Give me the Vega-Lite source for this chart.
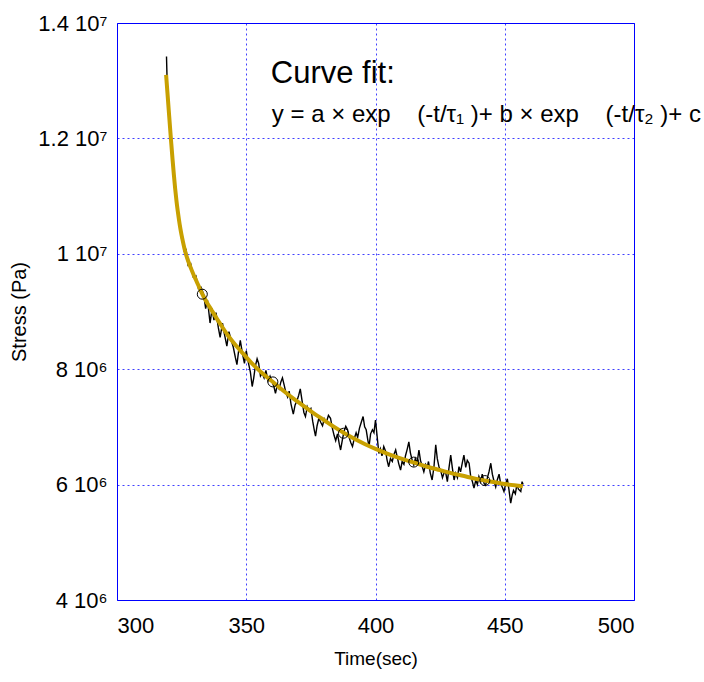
{
  "$schema": "https://vega.github.io/schema/vega-lite/v6.json",
  "width": 517,
  "height": 577,
  "autosize": {"type": "none"},
  "padding": {"left": 117, "top": 23, "right": 70, "bottom": 82},
  "background": "white",
  "datasets": {
    "raw": [
      {"t":319.15,"s":13.42},{"t":319.3,"s":13.15},{"t":319.5,"s":12.84},{"t":320.0,"s":12.46},{"t":320.5,"s":12.24},
      {"t":321.0,"s":11.86},{"t":321.5,"s":11.66},{"t":322.0,"s":11.33},{"t":322.5,"s":11.18},{"t":323.0,"s":10.88},
      {"t":323.5,"s":10.79},{"t":324.0,"s":10.55},{"t":324.5,"s":10.50},{"t":325.0,"s":10.26},{"t":325.5,"s":10.27},
      {"t":326.0,"s":10.05},{"t":326.7,"s":10.07},{"t":327.5,"s":9.80},{"t":328.5,"s":9.83},{"t":329.5,"s":9.60},
      {"t":330.5,"s":9.62},{"t":331.5,"s":9.40},{"t":332.5,"s":9.42},{"t":333.5,"s":9.30},{"t":334.3,"s":9.05},
      {"t":335.0,"s":9.20},{"t":336.0,"s":8.80},{"t":336.8,"s":9.05},{"t":337.5,"s":8.85},{"t":338.3,"s":8.98},
      {"t":339.2,"s":8.72},{"t":339.9,"s":8.55},{"t":340.8,"s":8.80},{"t":341.5,"s":8.62},{"t":342.5,"s":8.40},
      {"t":343.3,"s":8.65},{"t":344.2,"s":8.50},{"t":345.0,"s":8.38},{"t":345.8,"s":8.20},{"t":346.4,"s":8.08},
      {"t":347.0,"s":8.30},{"t":347.7,"s":8.50},{"t":348.5,"s":8.28},{"t":349.3,"s":8.10},{"t":350.0,"s":8.32},
      {"t":350.8,"s":8.12},{"t":351.6,"s":7.95},{"t":352.3,"s":7.70},{"t":352.9,"s":7.85},{"t":353.5,"s":8.05},
      {"t":354.2,"s":8.18},{"t":354.8,"s":8.10},{"t":355.5,"s":7.88},{"t":356.2,"s":7.93},{"t":356.9,"s":7.85},
      {"t":357.6,"s":7.98},{"t":358.4,"s":7.80},{"t":359.2,"s":7.88},{"t":360.0,"s":7.78},{"t":360.7,"s":7.70},
      {"t":361.3,"s":7.58},{"t":362.0,"s":7.72},{"t":362.7,"s":7.66},{"t":363.4,"s":7.78},{"t":364.0,"s":7.85},
      {"t":364.7,"s":7.72},{"t":365.3,"s":7.60},{"t":366.0,"s":7.52},{"t":366.6,"s":7.62},{"t":367.3,"s":7.40},
      {"t":368.2,"s":7.22},{"t":368.9,"s":7.38},{"t":369.6,"s":7.45},{"t":370.3,"s":7.55},{"t":370.9,"s":7.66},
      {"t":371.6,"s":7.45},{"t":372.3,"s":7.25},{"t":372.9,"s":7.18},{"t":373.6,"s":7.35},{"t":374.3,"s":7.28},
      {"t":375.0,"s":7.32},{"t":375.7,"s":7.10},{"t":376.3,"s":6.95},{"t":376.8,"s":6.84},{"t":377.4,"s":7.02},
      {"t":378.1,"s":7.15},{"t":378.8,"s":7.08},{"t":379.5,"s":7.02},{"t":380.2,"s":7.14},{"t":381.0,"s":7.08},
      {"t":381.8,"s":7.20},{"t":382.6,"s":7.15},{"t":383.3,"s":6.98},{"t":384.0,"s":6.85},{"t":384.6,"s":6.76},
      {"t":385.3,"s":6.88},{"t":386.0,"s":6.70},{"t":386.5,"s":6.60},{"t":387.2,"s":6.78},{"t":387.8,"s":6.92},
      {"t":388.5,"s":7.01},{"t":389.2,"s":6.95},{"t":389.9,"s":6.80},{"t":390.5,"s":6.72},{"t":391.1,"s":6.66},
      {"t":391.8,"s":6.80},{"t":392.5,"s":6.90},{"t":393.1,"s":6.82},{"t":393.8,"s":6.98},{"t":394.5,"s":7.08},
      {"t":395.2,"s":7.18},{"t":395.8,"s":7.00},{"t":396.4,"s":6.95},{"t":397.0,"s":6.78},{"t":397.5,"s":6.66},
      {"t":398.1,"s":6.88},{"t":398.8,"s":6.95},{"t":399.4,"s":6.90},{"t":400.0,"s":7.12},{"t":400.6,"s":6.85},
      {"t":401.3,"s":6.54},{"t":401.9,"s":6.62},{"t":402.5,"s":6.50},{"t":403.2,"s":6.66},{"t":403.9,"s":6.58},
      {"t":404.5,"s":6.42},{"t":405.1,"s":6.31},{"t":405.8,"s":6.45},{"t":406.5,"s":6.40},{"t":407.1,"s":6.52},
      {"t":407.8,"s":6.60},{"t":408.4,"s":6.48},{"t":409.0,"s":6.36},{"t":409.7,"s":6.25},{"t":410.3,"s":6.40},
      {"t":411.0,"s":6.35},{"t":411.6,"s":6.50},{"t":412.3,"s":6.62},{"t":412.9,"s":6.74},{"t":413.5,"s":6.55},
      {"t":414.2,"s":6.42},{"t":414.8,"s":6.34},{"t":415.4,"s":6.45},{"t":416.1,"s":6.38},{"t":416.8,"s":6.60},
      {"t":417.4,"s":6.42},{"t":418.1,"s":6.31},{"t":418.7,"s":6.22},{"t":419.4,"s":6.35},{"t":420.0,"s":6.30},
      {"t":420.5,"s":6.40},{"t":421.2,"s":6.20},{"t":421.9,"s":6.08},{"t":422.6,"s":6.30},{"t":423.3,"s":6.69},
      {"t":423.9,"s":6.45},{"t":424.6,"s":6.30},{"t":425.2,"s":6.25},{"t":425.9,"s":6.12},{"t":426.5,"s":6.20},
      {"t":427.1,"s":6.22},{"t":427.8,"s":6.05},{"t":428.4,"s":6.28},{"t":429.1,"s":6.51},{"t":429.7,"s":6.30},
      {"t":430.4,"s":6.08},{"t":431.0,"s":6.20},{"t":431.7,"s":6.12},{"t":432.3,"s":6.31},{"t":432.9,"s":6.22},
      {"t":433.6,"s":6.38},{"t":434.2,"s":6.51},{"t":434.9,"s":6.30},{"t":435.5,"s":6.42},{"t":436.2,"s":6.37},
      {"t":436.8,"s":6.15},{"t":437.5,"s":6.05},{"t":438.1,"s":5.94},{"t":438.8,"s":6.08},{"t":439.4,"s":6.00},
      {"t":440.0,"s":6.14},{"t":440.7,"s":6.05},{"t":441.3,"s":6.18},{"t":442.0,"s":6.02},{"t":442.6,"s":5.99},
      {"t":443.3,"s":6.12},{"t":443.9,"s":6.22},{"t":444.6,"s":6.37},{"t":445.2,"s":6.18},{"t":445.9,"s":6.05},
      {"t":446.5,"s":5.96},{"t":447.1,"s":6.08},{"t":447.8,"s":6.18},{"t":448.4,"s":6.02},{"t":449.1,"s":5.95},
      {"t":449.7,"s":5.88},{"t":450.4,"s":6.02},{"t":451.0,"s":6.10},{"t":451.6,"s":5.92},{"t":452.3,"s":5.68},
      {"t":452.9,"s":5.82},{"t":453.4,"s":5.90},{"t":454.1,"s":5.84},{"t":454.7,"s":6.00},{"t":455.3,"s":5.92},
      {"t":456.2,"s":5.88},{"t":456.7,"s":6.05},{"t":457.1,"s":6.00}
    ],
    "fit": [
      {"t":319.0,"s":13.10},{"t":319.5,"s":12.80},{"t":320.0,"s":12.50},{"t":320.5,"s":12.20},{"t":321.0,"s":11.91},
      {"t":321.5,"s":11.63},{"t":322.0,"s":11.37},{"t":322.5,"s":11.13},{"t":323.0,"s":10.92},{"t":323.5,"s":10.74},
      {"t":324.0,"s":10.58},{"t":324.5,"s":10.44},{"t":325.0,"s":10.32},{"t":325.5,"s":10.21},{"t":326.0,"s":10.11},
      {"t":326.7,"s":9.99},{"t":327.5,"s":9.88},{"t":328.5,"s":9.76},{"t":329.5,"s":9.65},{"t":330.5,"s":9.55},
      {"t":331.5,"s":9.45},{"t":332.5,"s":9.35},{"t":333.5,"s":9.26},{"t":335.0,"s":9.14},{"t":336.5,"s":9.03},
      {"t":338.0,"s":8.92},{"t":340.0,"s":8.78},{"t":343.0,"s":8.58},{"t":346.0,"s":8.41},{"t":349.0,"s":8.26},
      {"t":352.0,"s":8.11},{"t":356.0,"s":7.94},{"t":360.0,"s":7.79},{"t":364.0,"s":7.64},{"t":368.0,"s":7.50},
      {"t":372.0,"s":7.37},{"t":376.0,"s":7.24},{"t":380.0,"s":7.12},{"t":384.0,"s":7.00},{"t":388.0,"s":6.89},
      {"t":392.0,"s":6.79},{"t":396.0,"s":6.70},{"t":400.0,"s":6.62},{"t":405.0,"s":6.53},{"t":410.0,"s":6.45},
      {"t":415.0,"s":6.38},{"t":420.0,"s":6.31},{"t":425.0,"s":6.25},{"t":430.0,"s":6.19},{"t":435.0,"s":6.14},
      {"t":440.0,"s":6.09},{"t":445.0,"s":6.05},{"t":450.0,"s":6.01},{"t":457.0,"s":5.97}
    ],
    "markers": [
      {"t":333.0,"s":9.30},{"t":360.3,"s":7.78},{"t":387.6,"s":6.89},{"t":414.8,"s":6.39},{"t":442.3,"s":6.07}
    ],
    "notes": [
      {"t":359.5,"s":12.955,"label":"Curve fit:","size":31},
      {"t":359.9,"s":12.29,"label":"y = a × exp\u00a0\u00a0\u00a0\u00a0(-t/τ₁\u00a0)+ b × exp\u00a0\u00a0\u00a0\u00a0(-t/τ₂\u00a0)+ c","size":24}
    ]
  },
  "encoding": {
    "x": {"field": "t", "type": "quantitative", "scale": {"domain": [300, 500], "nice": false, "zero": false},
      "axis": {"title": "Time(sec)", "values": [300, 350, 400, 450, 500]}},
    "y": {"field": "s", "type": "quantitative", "scale": {"domain": [4, 14], "nice": false, "zero": false},
      "axis": {"title": "Stress (Pa)", "values": [4, 6, 8, 10, 12, 14],
        "labelExpr": "datum.value >= 10 ? (datum.value/10) + ' 10⁷' : datum.value + ' 10⁶'"}}
  },
  "layer": [
    {"data": {"name": "raw"}, "mark": {"type": "line", "color": "black", "strokeWidth": 1.4}},
    {"data": {"name": "fit"}, "mark": {"type": "line", "color": "#C8A000", "strokeWidth": 4, "interpolate": "monotone"}},
    {"data": {"name": "markers"}, "mark": {"type": "point", "shape": "circle", "filled": false, "color": "black", "strokeWidth": 1, "size": 100, "opacity": 1}},
    {"data": {"name": "notes"}, "mark": {"type": "text", "align": "left", "baseline": "alphabetic", "color": "black", "font": "Liberation Sans"},
      "encoding": {"text": {"field": "label"}, "size": {"field": "size", "type": "quantitative", "scale": null}}}
  ],
  "config": {
    "font": "Liberation Sans",
    "view": {"stroke": "#0000ff", "strokeWidth": 1},
    "axis": {
      "domain": false,
      "ticks": false,
      "grid": true,
      "gridColor": "#0000ff",
      "gridOpacity": 0.75,
      "gridDash": [2, 3],
      "gridWidth": 1,
      "labelFont": "Liberation Sans",
      "labelFontSize": 22,
      "labelColor": "black",
      "titleFont": "Liberation Sans",
      "titleFontSize": 19,
      "titleFontWeight": "normal",
      "titleColor": "black"
    },
    "axisX": {"labelPadding": 15, "titlePadding": 13},
    "axisY": {"labelPadding": 10, "titlePadding": 8, "titleFontSize": 20}
  }
}
